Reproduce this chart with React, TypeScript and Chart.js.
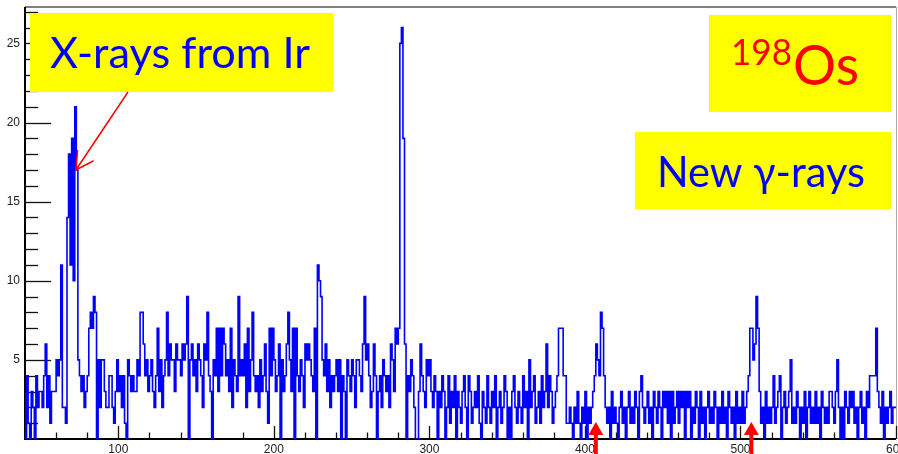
import React, { useEffect, useRef } from "react";
import { Chart, registerables } from "chart.js";

Chart.register(...registerables);

// Histogram: bins of width 1, starting at 40
const BIN_START = 40;
const BIN_WIDTH = 1;

const counts040to139 = [
  3, 0, 4, 1, 0, 3, 2, 0, 4, 2,
  3, 3, 2, 4, 6, 2, 4, 1, 3, 3,
  3, 5, 4, 5, 11, 2, 2, 1, 14, 18,
  11, 19, 10, 21, 17, 5, 4, 3, 4, 2,
  3, 4, 7, 8, 7, 9, 8, 0, 5, 2,
  5, 5, 3, 2, 2, 4, 4, 2, 1, 3,
  5, 3, 4, 2, 4, 1, 0, 5, 4, 3,
  4, 3, 3, 5, 4, 8, 8, 6, 4, 5,
  3, 4, 5, 3, 2, 4, 7, 3, 5, 2,
  4, 5, 8, 4, 6, 5, 5, 3, 6, 5,
];
const counts140to239 = [
  5, 4, 6, 5, 6, 9, 0, 5, 6, 4,
  5, 3, 6, 5, 4, 2, 6, 5, 8, 4,
  3, 0, 5, 4, 7, 3, 7, 4, 7, 6,
  4, 5, 3, 7, 2, 5, 4, 3, 9, 4,
  5, 4, 6, 2, 7, 3, 5, 8, 4, 3,
  4, 2, 5, 3, 4, 6, 3, 1, 7, 4,
  7, 5, 3, 4, 6, 0, 5, 3, 4, 6,
  8, 5, 3, 7, 0, 7, 4, 3, 5, 4,
  2, 6, 5, 6, 5, 4, 3, 7, 0, 11,
  10, 9, 5, 4, 6, 3, 5, 2, 4, 3,
];
const counts240to339 = [
  4, 5, 3, 5, 0, 4, 3, 0, 5, 4,
  3, 5, 4, 2, 5, 5, 4, 3, 6, 9,
  5, 6, 4, 2, 3, 6, 4, 0, 3, 4,
  2, 5, 4, 3, 4, 2, 6, 5, 3, 7,
  6, 7, 25, 26, 19, 6, 0, 4, 3, 5,
  4, 2, 0, 0, 3, 6, 4, 3, 2, 5,
  4, 5, 3, 2, 4, 3, 0, 3, 2, 4,
  3, 0, 2, 4, 1, 3, 2, 4, 0, 3,
  2, 1, 3, 4, 2, 0, 4, 3, 1, 2,
  3, 2, 4, 1, 0, 3, 2, 1, 4, 2,
];
const counts340to469 = [
  1, 3, 2, 4, 0, 2, 3, 1, 2, 4,
  3, 0, 2, 0, 3, 4, 2, 1, 3, 2,
  1, 4, 2, 3, 0, 5, 2, 3, 4, 1,
  2, 3, 1, 4, 2, 3, 6, 2, 4, 3,
  1, 2, 3, 4, 7, 7, 7, 4, 4, 1,
  1, 2, 1, 0, 2, 1, 3, 1, 0, 2,
  1, 3, 0, 2, 1, 2, 3, 4, 6, 5,
  4, 8, 7, 4, 2, 1, 2, 0, 3, 1,
  2, 1, 0, 2, 3, 1, 2, 0, 2, 3,
  1, 2, 1, 3, 2, 0, 3, 4, 2, 1,
  2, 3, 1, 2, 0, 3, 2, 1, 3, 2,
  0, 3, 2, 3, 1, 3, 0, 3, 1, 2,
  3, 1, 3, 2, 3, 0, 3, 2, 3, 0,
];
const counts470to599 = [
  2, 1, 3, 2, 0, 3, 1, 2, 0, 2,
  3, 1, 2, 1, 3, 2, 0, 2, 1, 3,
  1, 2, 0, 3, 2, 1, 2, 0, 3, 1,
  2, 1, 3, 1, 2, 3, 4, 7, 7, 5,
  6, 9, 7, 3, 1, 2, 0, 3, 1, 2,
  1, 2, 4, 1, 2, 3, 4, 0, 2, 3,
  1, 2, 3, 5, 1, 2, 1, 3, 2, 0,
  2, 1, 3, 0, 2, 3, 1, 2, 1, 3,
  1, 2, 0, 3, 2, 1, 2, 1, 3, 3,
  2, 1, 3, 5, 2, 0, 2, 0, 3, 2,
  1, 3, 2, 3, 1, 2, 0, 2, 3, 1,
  2, 0, 3, 2, 4, 4, 4, 4, 7, 3,
  2, 1, 3, 0, 2, 1, 2, 3, 1, 2,
];

const xRange = [40, 600];
const yRange = [0, 27.3];
const xTickLabels = [100, 200, 300, 400, 500, 600];
const yTickLabels = [5, 10, 15, 20, 25];
const newGammaEnergies = [407, 507];
const xrayArrowTip = { x: 72.7, y: 17 };

const counts = [
  ...counts040to139,
  ...counts140to239,
  ...counts240to339,
  ...counts340to469,
  ...counts470to599,
];

const points = counts.map((c, i) => ({ x: BIN_START + i * BIN_WIDTH, y: c }));
points.push({ x: BIN_START + counts.length * BIN_WIDTH, y: counts[counts.length - 1] });

function fitText(ctx: CanvasRenderingContext2D, text: string, x: number, y: number, w: number) {
  const m = ctx.measureText(text).width;
  ctx.save();
  ctx.translate(x, y);
  ctx.scale(w / m, 1);
  ctx.fillText(text, 0, 0);
  ctx.restore();
}

const decor = {
  id: "decor",
  beforeDatasetsDraw(chart: any) {
    const { ctx, chartArea: a, scales } = chart;
    const xs = scales.x;
    const ys = scales.y;
    ctx.save();
    // frame
    ctx.strokeStyle = "#555";
    ctx.lineWidth = 1.5;
    ctx.beginPath();
    ctx.moveTo(a.left, a.top);
    ctx.lineTo(a.right, a.top);
    ctx.stroke();
    ctx.strokeStyle = "#aaa";
    ctx.lineWidth = 1;
    ctx.beginPath();
    ctx.moveTo(a.right + 0.5, a.top);
    ctx.lineTo(a.right + 0.5, a.bottom);
    ctx.stroke();
    // ticks
    ctx.strokeStyle = "#111";
    ctx.lineWidth = 1.3;
    const plotW = a.right - a.left;
    const plotH = a.bottom - a.top;
    for (let v = 1; v <= 27; v++) {
      const y = Math.round(ys.getPixelForValue(v)) + 0.5;
      const len = v % 5 === 0 ? plotW * 0.03 : plotW * 0.015;
      ctx.beginPath();
      ctx.moveTo(a.left, y);
      ctx.lineTo(a.left + len, y);
      ctx.stroke();
    }
    for (let v = 40; v <= 600; v += 20) {
      const x = Math.round(xs.getPixelForValue(v)) + 0.5;
      const len = v % 100 === 0 ? plotH * 0.03 : plotH * 0.015;
      ctx.beginPath();
      ctx.moveTo(x, a.bottom);
      ctx.lineTo(x, a.bottom - len);
      ctx.stroke();
    }
    // axes
    ctx.strokeStyle = "#000";
    ctx.lineWidth = 2;
    ctx.beginPath();
    ctx.moveTo(a.left, a.top);
    ctx.lineTo(a.left, a.bottom);
    ctx.lineTo(a.right, a.bottom);
    ctx.stroke();
    ctx.restore();
  },
  afterDatasetsDraw(chart: any) {
    const { ctx, scales } = chart;
    const xs = scales.x;
    const ys = scales.y;
    ctx.save();
    // X-rays box
    ctx.fillStyle = "#ffff00";
    ctx.fillRect(30, 13, 303, 79);
    ctx.fillStyle = "#0000ff";
    ctx.font = "43px Lato";
    ctx.textBaseline = "alphabetic";
    fitText(ctx, "X-rays from Ir", 50, 68, 260);
    // arrow
    const tx = xs.getPixelForValue(xrayArrowTip.x);
    const ty = ys.getPixelForValue(xrayArrowTip.y);
    const sx = 128;
    const sy = 92;
    ctx.strokeStyle = "#ff0000";
    ctx.lineWidth = 1.5;
    ctx.beginPath();
    ctx.moveTo(sx, sy);
    ctx.lineTo(tx, ty);
    const ang = Math.atan2(sy - ty, sx - tx);
    const hl = 20;
    for (const d of [-0.5, 0.5]) {
      ctx.moveTo(tx, ty);
      ctx.lineTo(tx + hl * Math.cos(ang + d), ty + hl * Math.sin(ang + d));
    }
    ctx.stroke();
    // 198Os box
    ctx.fillStyle = "#ffff00";
    ctx.fillRect(709, 15, 182, 97);
    ctx.fillStyle = "#ff0000";
    ctx.font = "36px Lato";
    fitText(ctx, "198", 731, 65, 61);
    ctx.font = "56px Lato";
    fitText(ctx, "Os", 793, 85, 66);
    // New gamma rays box
    ctx.fillStyle = "#ffff00";
    ctx.fillRect(635, 132, 256, 77);
    ctx.fillStyle = "#0000ff";
    ctx.font = "42px Lato";
    fitText(ctx, "New γ-rays", 657, 187, 208);
    // red upward arrows
    ctx.fillStyle = "#ff0000";
    for (const e of newGammaEnergies) {
      const cx = xs.getPixelForValue(e);
      const tip = 422;
      ctx.beginPath();
      ctx.moveTo(cx, tip);
      ctx.lineTo(cx - 7.5, tip + 13);
      ctx.lineTo(cx + 7.5, tip + 13);
      ctx.closePath();
      ctx.fill();
      ctx.fillRect(cx - 2, tip + 12, 4, 454 - tip - 12);
    }
    ctx.restore();
  },
};

export default function App() {
  const ref = useRef<HTMLCanvasElement>(null);
  useEffect(() => {
    if (!ref.current) return;
    const chart = new Chart(ref.current, {
      type: "line",
      data: {
        datasets: [
          {
            data: points,
            stepped: "after",
            borderColor: "#0000ff",
            borderWidth: 1.6,
            pointRadius: 0,
            fill: false,
          },
        ],
      },
      options: {
        animation: false,
        responsive: false,
        events: [],
        layout: { autoPadding: false, padding: { left: 0, top: 7, right: 2, bottom: 0 } },
        plugins: { legend: { display: false }, tooltip: { enabled: false } },
        scales: {
          x: {
            type: "linear",
            min: xRange[0],
            max: xRange[1],
            offset: false,
            grid: { display: false, drawTicks: false, offset: false },
            border: { display: false },
            afterBuildTicks: (s: any) => {
              s.ticks = xTickLabels.map((v) => ({ value: v }));
            },
            afterFit: (s: any) => {
              s.height = 15;
              s.paddingLeft = 0;
              s.paddingRight = 0;
              s.paddingTop = 0;
              s.paddingBottom = 0;
            },
            ticks: {
              autoSkip: false,
              maxRotation: 0,
              padding: 3,
              color: "#222",
              font: { family: "Liberation Sans", size: 12 },
            },
          },
          y: {
            type: "linear",
            min: yRange[0],
            max: yRange[1],
            grid: { display: false, drawTicks: false },
            border: { display: false },
            afterBuildTicks: (s: any) => {
              s.ticks = yTickLabels.map((v) => ({ value: v }));
            },
            afterFit: (s: any) => {
              s.width = 25;
              s.paddingLeft = 0;
              s.paddingRight = 0;
              s.paddingTop = 0;
              s.paddingBottom = 0;
            },
            ticks: {
              padding: 5,
              color: "#222",
              font: { family: "Liberation Sans", size: 12 },
            },
          },
        },
      },
      plugins: [decor],
    });
    return () => chart.destroy();
  }, []);
  return (
    <div style={{ position: "absolute", left: 0, top: 0, width: 898, height: 454, background: "#fff" }}>
      <canvas ref={ref} width={898} height={454} style={{ display: "block" }} />
    </div>
  );
}
